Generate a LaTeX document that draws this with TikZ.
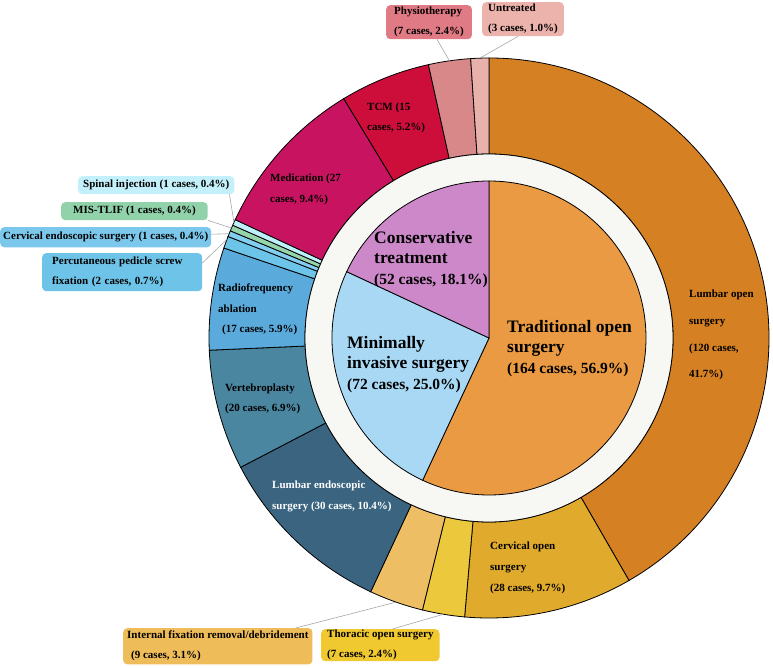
\documentclass[tikz,border=0pt]{standalone}
\usepackage{fontspec}
\setmainfont{Liberation Serif}
\definecolor{tradin}{RGB}{233,154,66}
\definecolor{minin}{RGB}{168,216,244}
\definecolor{consin}{RGB}{204,136,200}
\definecolor{gapring}{RGB}{247,248,243}
\definecolor{lumbopen}{RGB}{213,128,34}
\definecolor{cervopen}{RGB}{224,170,44}
\definecolor{thoropen}{RGB}{236,200,60}
\definecolor{intfix}{RGB}{238,190,100}
\definecolor{lumbendo}{RGB}{58,100,128}
\definecolor{vertebro}{RGB}{74,134,160}
\definecolor{radiofreq}{RGB}{90,170,220}
\definecolor{percut}{RGB}{108,196,232}
\definecolor{cervendo}{RGB}{130,205,240}
\definecolor{mistlif}{RGB}{150,212,170}
\definecolor{spinalinj}{RGB}{190,240,250}
\definecolor{medication}{RGB}{200,20,96}
\definecolor{tcm}{RGB}{206,14,58}
\definecolor{physio}{RGB}{216,136,136}
\definecolor{untreated}{RGB}{232,178,170}
\definecolor{physiobox}{RGB}{224,122,132}
\definecolor{untreatedbox}{RGB}{236,178,172}
\definecolor{spinalbox}{RGB}{195,240,250}
\definecolor{misbox}{RGB}{146,210,170}
\definecolor{cervendobox}{RGB}{124,200,236}
\definecolor{percutbox}{RGB}{110,196,232}
\definecolor{intfixbox}{RGB}{239,188,90}
\definecolor{thorbox}{RGB}{240,200,48}
\tikzset{
        wedge/.style={draw=black, line width=0.8pt}, % outline of every slice
        ringtext/.style={font=\bfseries\fontsize{11}{#1}\selectfont, align=left, anchor=north west, inner sep=0pt},
        ringtext/.default=21,
        coretext/.style={font=\bfseries\fontsize{17.5}{20.5}\selectfont, align=left, anchor=north west, inner sep=0pt},
        callout/.style={font=\bfseries\fontsize{11}{20}\selectfont, align=left, anchor=north west, rounded corners=4pt, inner ysep=3pt},
        leader/.style={draw=black!35, line width=0.6pt} % thin grey pointer lines
        }
% slice of the outer ring: start angle, end angle, colour
\newcommand{\ringseg}[3]{\filldraw[wedge, fill=#3] (#1:184) -- (#1:280) arc[start angle=#1, end angle=#2, radius=280] -- (#2:184) arc[start angle=#2, end angle=#1, radius=184] -- cycle;}
% slice of the inner pie
\newcommand{\coreseg}[3]{\filldraw[wedge, fill=#3] (0,0) -- (#1:157) arc[start angle=#1, end angle=#2, radius=157] -- cycle;}
\begin{document}
\begin{tikzpicture}[x=1pt, y=1pt]
\useasboundingbox (0,0) rectangle (773,667);
\begin{scope}[shift={(489,329)}]
        % outer ring, clockwise from the top, 1.25 degrees per case
        \ringseg{90}{-60}{lumbopen}
        \ringseg{-60}{-95}{cervopen}
        \ringseg{-95}{-103.75}{thoropen}
        \ringseg{-103.75}{-115}{intfix}
        \ringseg{-115}{-152.5}{lumbendo}
        \ringseg{-152.5}{-177.5}{vertebro}
        \ringseg{-177.5}{-198.75}{radiofreq}
        \ringseg{-198.75}{-201.25}{percut}
        \ringseg{-201.25}{-202.5}{cervendo}
        \ringseg{-202.5}{-203.75}{mistlif}
        \ringseg{-203.75}{-205}{spinalinj}
        \ringseg{-205}{-238.75}{medication}
        \ringseg{-238.75}{-257.5}{tcm}
        \ringseg{-257.5}{-266.25}{physio}
        \ringseg{-266.25}{-270}{untreated}
        \filldraw[wedge, fill=gapring] (0,0) circle[radius=184];
        % inner pie
        \coreseg{90}{-115}{tradin}
        \coreseg{-115}{-205}{minin}
        \coreseg{-205}{-270}{consin}
        % where the pointers meet the ring
        \coordinate (physioend) at (98.125:280);
        \coordinate (untreatedend) at (91.875:280);
        \coordinate (spinalend) at (155.625:280);
        \coordinate (misend) at (156.875:280);
        \coordinate (cervendoend) at (158.125:280);
        \coordinate (percutend) at (159.375:280);
        \coordinate (intfixend) at (-109.375:280);
        \coordinate (thorend) at (-99.375:280);
\end{scope}

\node[ringtext=26.7] (lumbtxt) at (689,377) {Lumbar open\\surgery\\(120 cases,\\41.7\%)};
\node[ringtext] (cervtxt) at (490,125) {Cervical open\\surgery\\(28 cases, 9.7\%)};
\node[ringtext, text=white] (lendtxt) at (272,186) {Lumbar endoscopic\\surgery (30 cases, 10.4\%)};
\node[ringtext=20] (vertxt) at (225,283) {Vertebroplasty\\(20 cases, 6.9\%)};
\node[ringtext=20.5] (rftxt) at (218,383) {Radiofrequency\\ablation\\\hspace*{4pt}(17 cases, 5.9\%)};
\node[ringtext] (medtxt) at (270,493) {Medication (27\\cases, 9.4\%)};
\node[ringtext=20] (tcmtxt) at (367,564) {TCM (15\\cases, 5.2\%)};

\node[coretext] (tradtxt) at (507,347) {Traditional open\\surgery\\{\fontsize{15.5}{20.5}\selectfont(164 cases, 56.9\%)}};
\node[coretext] (mintxt) at (347,331) {Minimally\\invasive surgery\\{\fontsize{15.5}{20.5}\selectfont(72 cases, 25.0\%)}};
\node[coretext] (constxt) at (374,436) {Conservative\\treatment\\{\fontsize{15.5}{20.5}\selectfont(52 cases, 18.1\%)}};

\node[callout, fill=physiobox, inner xsep=8pt, inner ysep=2pt] (physiolbl) at (386,662) {Physiotherapy\\(7 cases, 2.4\%)};
\node[callout, fill=untreatedbox, inner xsep=6pt, inner ysep=2pt] (untreatedlbl) at (482,665) {Untreated\\(3 cases, 1.0\%)};
\node[callout, fill=spinalbox, inner xsep=5pt, inner ysep=4pt] (spinallbl) at (78,491) {Spinal injection (1 cases, 0.4\%)};
\node[callout, fill=misbox, inner xsep=12pt, inner ysep=4pt] (mislbl) at (61,465) {MIS-TLIF (1 cases, 0.4\%)};
\node[callout, fill=cervendobox, inner xsep=3pt, inner ysep=5pt] (cervendolbl) at (0,440) {Cervical endoscopic surgery (1 cases, 0.4\%)};
\node[callout, fill=percutbox, text width=140pt, inner xsep=10pt, inner ysep=4pt] (percutlbl) at (42,414) {Percutaneous pedicle screw\\fixation (2 cases, 0.7\%)};
\node[callout, fill=intfixbox, inner xsep=4pt, inner ysep=3pt] (intfixlbl) at (123,39) {Internal fixation removal/debridement\\\hspace*{4pt}(9 cases, 3.1\%)};
\node[callout, fill=thorbox, inner xsep=6pt, inner ysep=1pt] (thorlbl) at (321,38) {Thoracic open surgery\\(7 cases, 2.4\%)};

\draw[leader] ([xshift=8pt]physiolbl.south) -- (physioend);
\draw[leader] ([xshift=-5pt]untreatedlbl.south) -- (untreatedend);
\draw[leader] ([xshift=-5pt]spinallbl.south east) -- (spinalend);
\draw[leader] (mislbl.south east) -- (misend);
\draw[leader] ([yshift=3pt]cervendolbl.east) -- (cervendoend);
\draw[leader] ([yshift=-10pt]percutlbl.north east) -- (percutend);
\draw[leader] ([xshift=-17pt]intfixlbl.north east) -- (intfixend);
\draw[leader] ([xshift=12pt]thorlbl.north) -- (thorend);
\end{tikzpicture}
\end{document}
